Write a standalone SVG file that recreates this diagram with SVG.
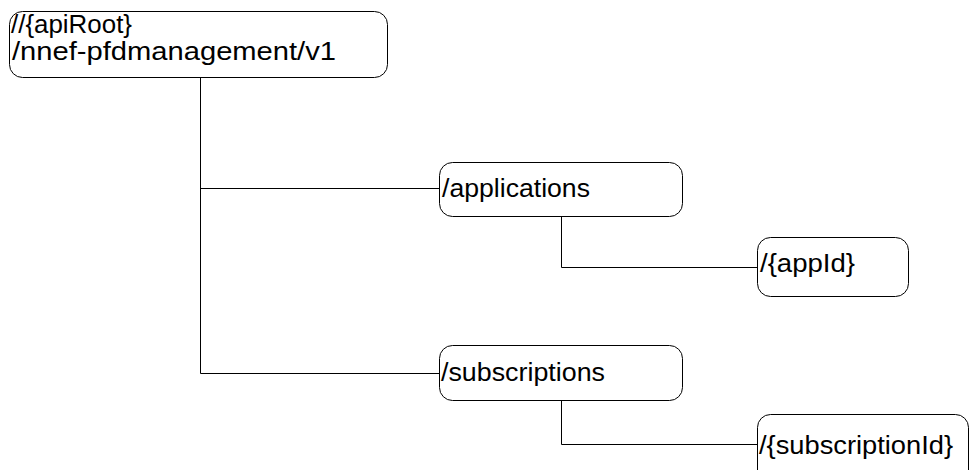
<svg xmlns="http://www.w3.org/2000/svg" width="970" height="470" viewBox="0 0 970 470">
<style>
.box{fill:#fff;stroke:#000;stroke-width:1}
.t{font-family:"Liberation Sans",Arial,sans-serif;font-size:26px;fill:#000}
.c{fill:none;stroke:#000;stroke-width:1}
</style>
<rect width="970" height="470" fill="#fff"/>
<g id="connectors">
<polyline class="c" points="200.5,77.5 200.5,373.5 439.5,373.5"/>
<line class="c" x1="200.5" y1="188.5" x2="439.5" y2="188.5"/>
<polyline class="c" points="561.5,216.5 561.5,267.5 757.5,267.5"/>
<polyline class="c" points="561.5,400.5 561.5,444.5 757.5,444.5"/>
</g>
<g id="root">
<rect class="box" x="9.5" y="11.5" width="378" height="66" rx="13"/>
<text class="t" x="11" y="33" textLength="121" lengthAdjust="spacingAndGlyphs">//{apiRoot}</text>
<text class="t" x="12" y="60" textLength="324" lengthAdjust="spacingAndGlyphs">/nnef-pfdmanagement/v1</text>
</g>
<g id="applications">
<rect class="box" x="439.5" y="162.5" width="243" height="54" rx="13"/>
<text class="t" x="442" y="197" textLength="148" lengthAdjust="spacingAndGlyphs">/applications</text>
</g>
<g id="appId">
<rect class="box" x="757.5" y="237.5" width="151" height="59" rx="13"/>
<text class="t" x="760" y="272" textLength="95" lengthAdjust="spacingAndGlyphs">/{appId}</text>
</g>
<g id="subscriptions">
<rect class="box" x="439.5" y="345.5" width="243" height="55" rx="13"/>
<text class="t" x="441" y="381" textLength="164" lengthAdjust="spacingAndGlyphs">/subscriptions</text>
</g>
<g id="subscriptionId">
<rect class="box" x="757.5" y="414.5" width="211" height="70" rx="13"/>
<text class="t" x="759" y="454" textLength="194" lengthAdjust="spacingAndGlyphs">/{subscriptionId}</text>
</g>
</svg>
